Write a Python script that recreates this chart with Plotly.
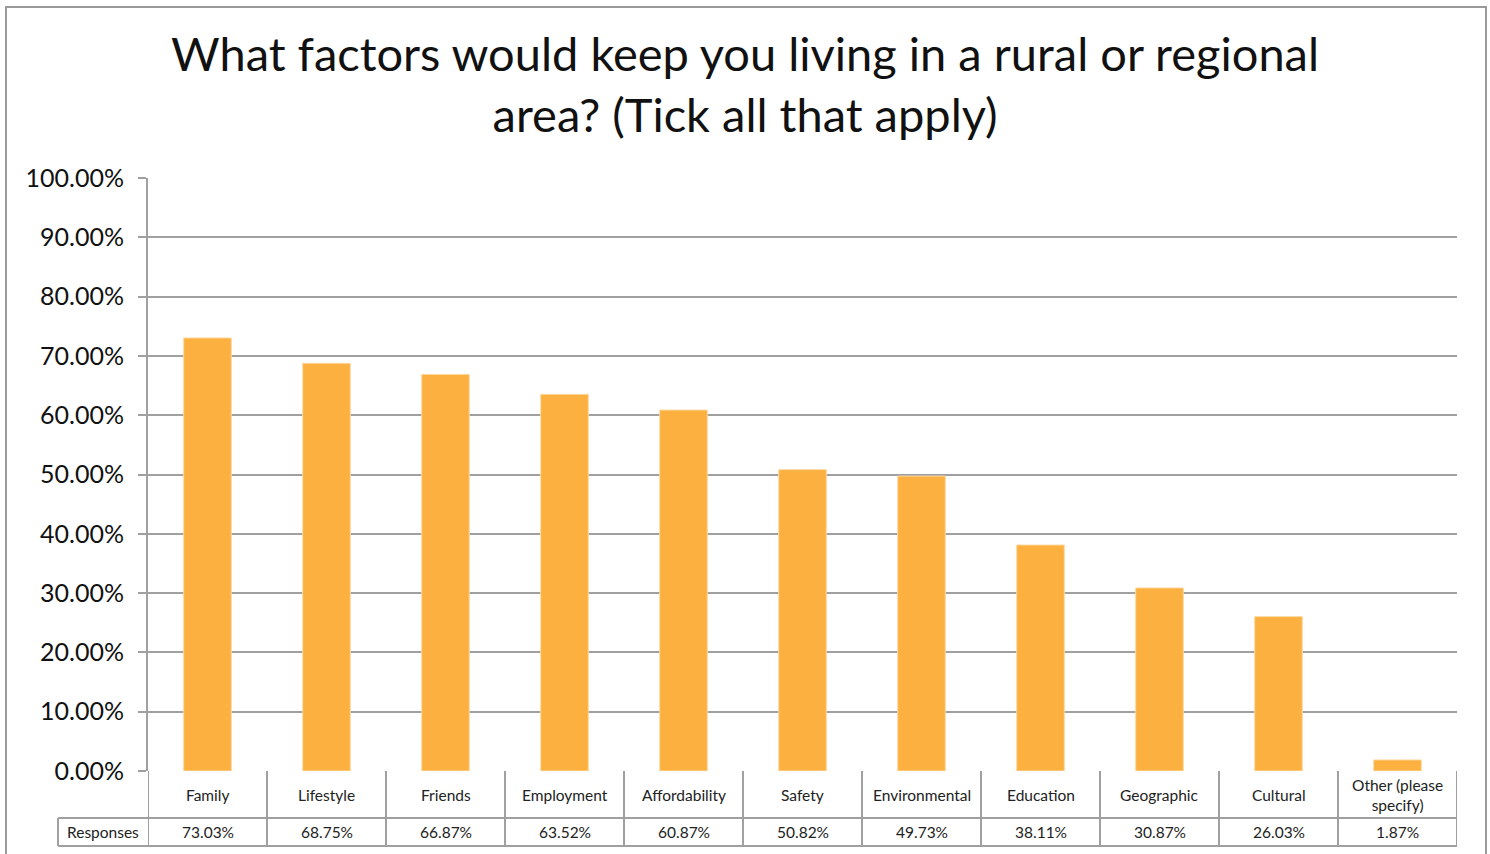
import plotly.graph_objects as go

# Survey results: share of respondents choosing each factor
categories = ["Family", "Lifestyle", "Friends", "Employment", "Affordability", "Safety",
              "Environmental", "Education", "Geographic", "Cultural", "Other (please<br>specify)"]
responses = [73.03, 68.75, 66.87, 63.52, 60.87, 50.82, 49.73, 38.11, 30.87, 26.03, 1.87]
y_ticks = [0, 10, 20, 30, 40, 50, 60, 70, 80, 90, 100]

W, H = 1490, 854
M_L, M_R, M_T, M_B = 148, 33, 178, 83
plot_w = W - M_L - M_R
plot_h = H - M_T - M_B

GRID = "#A0A0A0"
BAR = "#FBB040"
FONT = "Lato, 'Open Sans', sans-serif"
TXT = "#222222"


def py(px_y):
    """Pixel row -> paper y coordinate."""
    return (H - M_B - px_y) / plot_h


def px(px_x):
    """Pixel column -> paper x coordinate."""
    return (px_x - M_L) / plot_w


x_idx = list(range(len(categories)))

fig = go.Figure(go.Bar(
    x=x_idx, y=responses, width=0.4,
    marker=dict(color=BAR, line=dict(color="#FDD9A0", width=1)),
    hoverinfo="skip",
))

shapes = []
annotations = []

# Data table beneath the axis
row1_bottom = py(818)
row2_bottom = py(846)
line = dict(color=GRID, width=2)
shapes.append(dict(type="line", xref="paper", yref="paper", x0=px(58), x1=1,
                   y0=row1_bottom, y1=row1_bottom, line=line))
shapes.append(dict(type="line", xref="paper", yref="paper", x0=px(58), x1=1,
                   y0=row2_bottom, y1=row2_bottom, line=line))
shapes.append(dict(type="line", xref="paper", yref="paper", x0=px(58), x1=px(58),
                   y0=row1_bottom, y1=row2_bottom, line=line))
for k in range(len(categories) + 1):
    shapes.append(dict(type="line", xref="x", yref="paper", x0=k - 0.5, x1=k - 0.5,
                       y0=0, y1=row2_bottom, line=line))

cell_font = dict(size=15.5, color=TXT, family=FONT)
for i, (cat, val) in enumerate(zip(categories, responses)):
    annotations.append(dict(x=i, y=row1_bottom / 2, xref="x", yref="paper",
                            xanchor="center", yanchor="middle",
                            text=cat, showarrow=False, font=cell_font))
    annotations.append(dict(x=i, y=(row1_bottom + row2_bottom) / 2, xref="x", yref="paper",
                            xanchor="center", yanchor="middle",
                            text=f"{val:.2f}%", showarrow=False, font=cell_font))
annotations.append(dict(x=px(103), y=(row1_bottom + row2_bottom) / 2, xref="paper", yref="paper",
                        xanchor="center", yanchor="middle",
                        text="Responses", showarrow=False, font=cell_font))

# Chart title, two lines
annotations.append(dict(x=px(745), y=py(84), xref="paper", yref="paper",
                        xanchor="center", yanchor="middle", showarrow=False,
                        text="What factors would keep you living in a rural or regional<br>area? (Tick all that apply)",
                        font=dict(size=47, color="#111111", family=FONT)))

# Outer chart frame
shapes.append(dict(type="rect", xref="paper", yref="paper", x0=px(6), x1=px(1486),
                   y0=py(870), y1=py(7), line=dict(color="#9A9A9A", width=2),
                   fillcolor="rgba(0,0,0,0)", layer="below"))

fig.update_layout(
    width=W, height=H,
    margin=dict(l=M_L, r=M_R, t=M_T, b=M_B),
    paper_bgcolor="white", plot_bgcolor="white",
    showlegend=False,
    xaxis=dict(range=[-0.5, len(categories) - 0.5], showticklabels=False, showgrid=False,
               zeroline=False, showline=False, ticks=""),
    yaxis=dict(range=[0, 100], tickvals=y_ticks, ticktext=[f"{v:.2f}%" for v in y_ticks],
               showgrid=True, gridcolor=GRID, gridwidth=2, zeroline=False,
               showline=True, linecolor=GRID, linewidth=2,
               ticks="outside", ticklen=8, tickcolor=GRID, tickwidth=2,
               ticklabelstandoff=9,
               tickfont=dict(size=25, color="#111111", family=FONT)),
    shapes=shapes, annotations=annotations,
)

fig.write_html("out.html")
